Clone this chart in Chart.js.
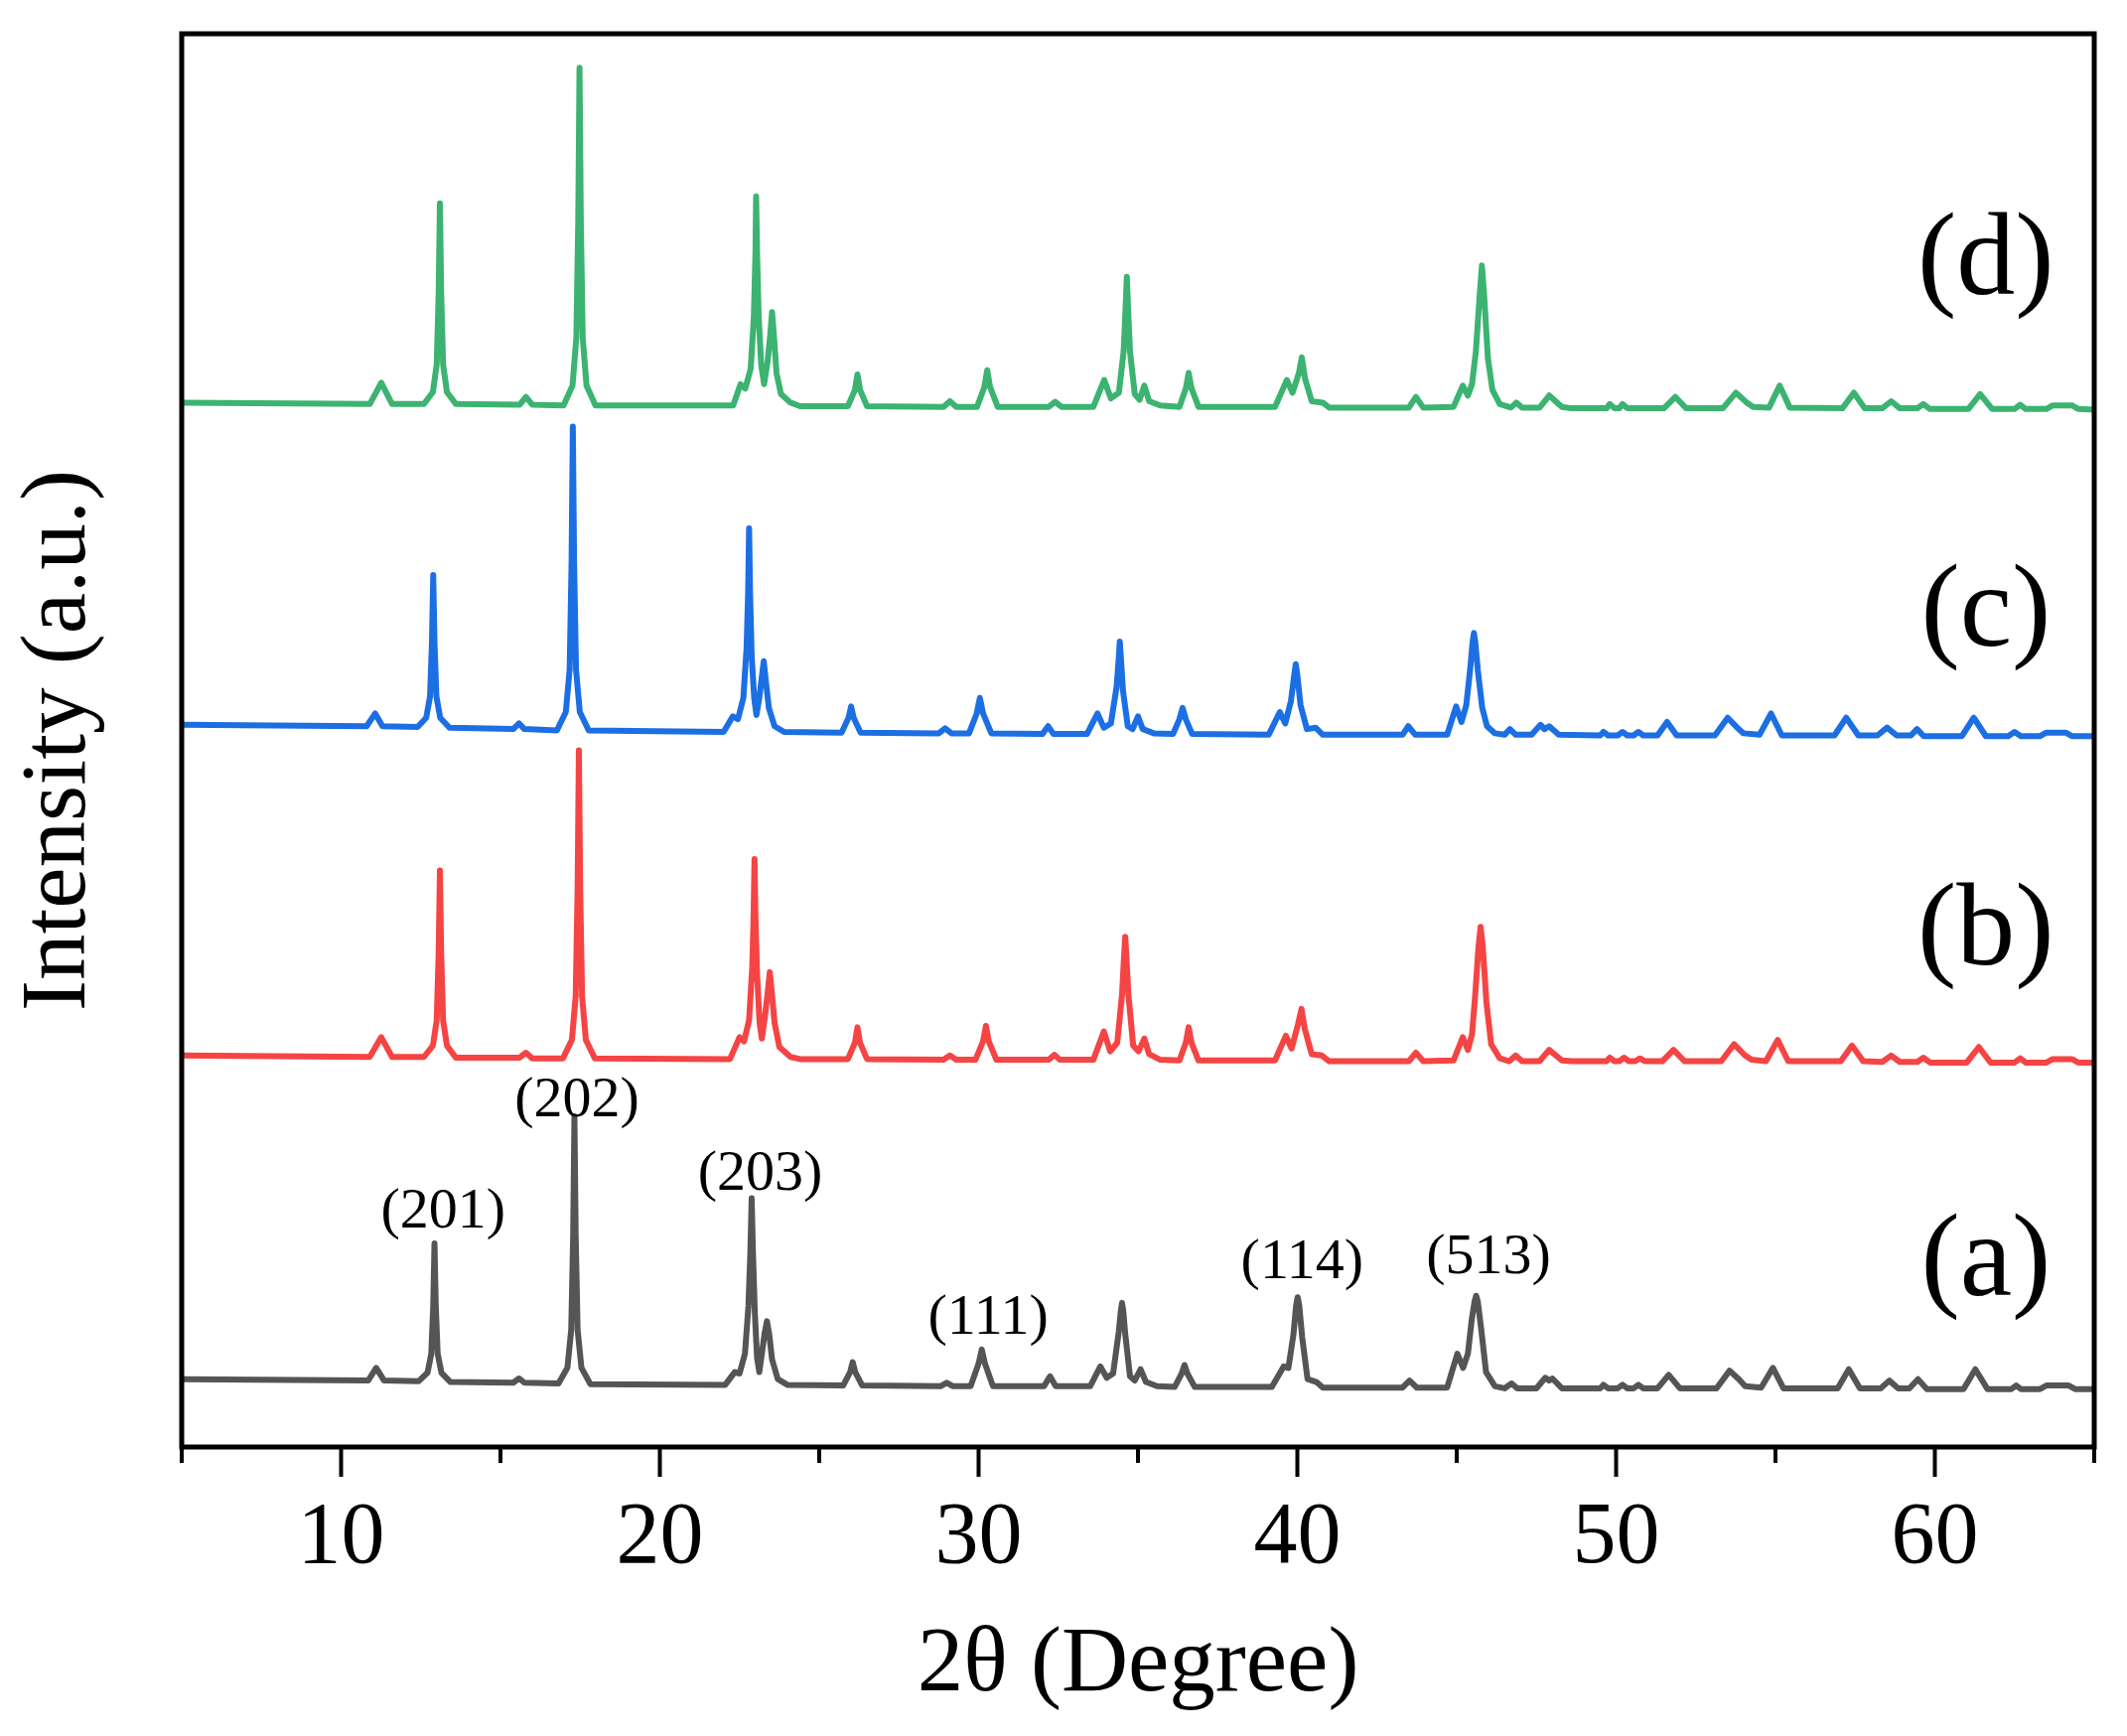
<!DOCTYPE html>
<html>
<head>
<meta charset="utf-8">
<script src="https://cdn.jsdelivr.net/npm/chart.js@4.4.1/dist/chart.umd.min.js"></script>
<style>
  html, body { margin: 0; padding: 0; background: #fff; }
  canvas { display: block; }
</style>
</head>
<body>
<canvas id="xrd" width="2142" height="1748"></canvas>
<script>
/***********************
 * DATA
 ***********************/
const xTicks = [10, 20, 30, 40, 50, 60];
const xMinorTicks = [5, 15, 25, 35, 45, 55, 65];

const sampleNames = ["(a)", "(b)", "(c)", "(d)"];
const sampleColors = ["#555555", "#f54444", "#1c6fe3", "#3cb371"];
// where the sample name sits (2θ, intensity)
const sampleNameAt = [[61.6, 12.9], [61.6, 36.3], [61.6, 58.9], [61.6, 83.8]];

// stacked patterns: [2θ, intensity (a.u.)]
const patternA = [
  [5,4.8],[10.85,4.7],[11.1,5.6],[11.35,4.7],
  [12.43,4.65],[12.71,5.25],[12.83,6.6],[12.89,10.0],[12.93,14.4],[12.97,10.0],[13.03,6.6],[13.15,5.25],[13.43,4.6],
  [15.4,4.55],[15.58,4.85],[15.75,4.55],
  [16.82,4.5],[17.1,5.6],[17.22,8.3],[17.28,14.9],[17.32,23.4],[17.36,14.9],[17.42,8.3],[17.54,5.6],[17.82,4.45],
  [22.05,4.4],[22.35,5.3],[22.5,5.2],[22.67,6.6],[22.78,10.0],[22.84,13.8],[22.88,17.6],[22.92,13.8],[22.98,9.5],[23.05,6.3],[23.12,5.3],
  [23.2,6.6],[23.29,8.1],[23.36,8.9],[23.43,8.0],[23.52,6.2],[23.7,4.8],[24.0,4.4],
  [25.75,4.35],[25.97,5.3],[26.05,6.0],[26.13,5.3],[26.35,4.35],
  [28.8,4.3],[29.0,4.55],[29.2,4.3],
  [29.75,4.3],[30.0,5.9],[30.1,6.9],[30.2,5.9],[30.45,4.3],
  [32.05,4.3],[32.24,5.0],[32.42,4.3],
  [33.5,4.3],[33.82,5.7],[34.02,4.9],[34.22,5.2],[34.4,8.2],[34.46,9.6],[34.5,10.2],[34.54,9.6],[34.6,8.0],[34.75,5.0],[34.9,4.7],[35.08,5.5],[35.25,4.6],[35.6,4.3],
  [36.15,4.25],[36.37,5.2],[36.46,5.8],[36.55,5.2],[36.78,4.25],
  [39.2,4.25],[39.57,5.7],[39.72,5.6],[39.88,8.0],[39.96,10.0],[40.01,10.6],[40.06,10.0],[40.15,7.8],[40.32,4.8],[40.6,4.6],[40.8,4.2],
  [43.3,4.2],[43.52,4.7],[43.75,4.2],
  [44.7,4.2],[45.02,6.6],[45.2,5.6],[45.35,6.6],[45.47,9.0],[45.56,10.3],[45.61,10.7],[45.66,10.3],[45.76,8.5],[45.92,5.3],[46.2,4.3],[46.5,4.15],[46.72,4.5],[46.9,4.15],
  [47.5,4.15],[47.78,4.9],[47.9,4.7],[48.0,4.85],[48.3,4.15],
  [49.5,4.15],[49.6,4.4],[49.75,4.15],[50.05,4.15],[50.2,4.4],[50.35,4.15],[50.55,4.15],[50.7,4.4],[50.85,4.15],
  [51.3,4.15],[51.65,5.1],[52.0,4.15],
  [53.15,4.15],[53.56,5.4],[53.85,4.8],[54.05,4.3],[54.55,4.2],[54.92,5.6],[55.25,4.15],
  [56.95,4.15],[57.3,5.5],[57.65,4.15],
  [58.3,4.15],[58.57,4.7],[58.85,4.15],[59.2,4.15],[59.47,4.8],[59.75,4.1],
  [60.9,4.1],[61.27,5.5],[61.65,4.1],
  [62.4,4.1],[62.55,4.35],[62.7,4.1],
  [63.3,4.1],[63.5,4.35],[64.2,4.35],[64.4,4.1],[65,4.1]
];

const patternB = [
  [5,27.7],[10.9,27.6],[11.26,29.0],[11.6,27.6],
  [12.6,27.6],[12.88,28.4],[13.0,30.2],[13.06,34.9],[13.1,40.8],[13.14,34.9],[13.2,30.2],[13.32,28.4],[13.6,27.55],
  [15.6,27.55],[15.8,27.9],[16.0,27.5],
  [16.96,27.5],[17.24,28.8],[17.36,31.9],[17.42,39.5],[17.46,49.3],[17.5,39.5],[17.56,31.9],[17.68,28.8],[17.96,27.5],
  [22.2,27.45],[22.5,29.0],[22.64,28.7],[22.8,30.2],[22.9,34.0],[22.94,37.5],[22.97,41.6],[23.0,37.5],[23.05,33.5],[23.13,30.0],[23.2,28.9],
  [23.3,30.5],[23.39,32.3],[23.45,33.6],[23.51,32.2],[23.6,30.0],[23.75,28.3],[24.1,27.6],[24.4,27.45],
  [25.9,27.45],[26.12,28.6],[26.2,29.7],[26.28,28.6],[26.5,27.45],
  [28.9,27.4],[29.1,27.7],[29.3,27.4],
  [29.9,27.4],[30.14,28.7],[30.23,29.8],[30.32,28.7],[30.56,27.4],
  [32.2,27.4],[32.38,27.75],[32.55,27.4],
  [33.6,27.4],[33.93,29.4],[34.13,28.0],[34.35,28.6],[34.5,32.0],[34.56,34.6],[34.6,36.1],[34.64,34.6],[34.7,32.0],[34.85,28.4],[35.02,28.0],[35.2,28.9],[35.35,27.8],[35.7,27.4],
  [36.3,27.35],[36.5,28.6],[36.59,29.7],[36.68,28.6],[36.9,27.35],
  [39.3,27.35],[39.64,29.1],[39.82,28.2],[40.02,29.9],[40.13,31.0],[40.23,29.6],[40.45,27.8],[40.77,27.7],[41.0,27.3],
  [43.5,27.3],[43.72,27.9],[43.95,27.3],
  [44.9,27.35],[45.19,29.0],[45.35,28.1],[45.48,29.2],[45.58,32.0],[45.68,35.3],[45.75,36.8],[45.82,35.3],[45.93,31.5],[46.08,28.5],[46.35,27.5],[46.65,27.3],[46.85,27.7],[47.05,27.3],
  [47.6,27.3],[47.9,28.1],[48.3,27.35],[48.6,27.3],
  [49.7,27.3],[49.8,27.55],[49.95,27.3],[50.1,27.3],[50.25,27.55],[50.4,27.3],[50.6,27.3],[50.75,27.5],[50.9,27.3],
  [51.45,27.3],[51.8,28.1],[52.15,27.3],
  [53.3,27.3],[53.7,28.5],[54.05,27.7],[54.25,27.4],[54.7,27.3],[55.07,28.8],[55.4,27.3],
  [57.05,27.3],[57.4,28.4],[57.75,27.3],
  [58.35,27.25],[58.63,27.7],[58.9,27.25],[59.45,27.25],[59.64,27.55],[59.85,27.2],
  [61.0,27.2],[61.38,28.3],[61.75,27.2],
  [62.5,27.2],[62.68,27.5],[62.85,27.2],
  [63.5,27.2],[63.7,27.45],[64.3,27.45],[64.5,27.2],[65,27.2]
];

const patternC = [
  [5,51.1],[10.8,51.0],[11.07,51.9],[11.3,51.0],
  [12.4,50.95],[12.67,51.6],[12.79,53.1],[12.85,56.9],[12.89,61.7],[12.93,56.9],[12.99,53.1],[13.11,51.6],[13.4,50.9],
  [15.4,50.8],[15.58,51.2],[15.75,50.8],
  [16.77,50.7],[17.05,52.0],[17.17,55.0],[17.23,62.5],[17.27,72.2],[17.31,62.5],[17.37,55.0],[17.49,52.0],[17.77,50.7],
  [22.0,50.6],[22.29,51.7],[22.45,51.5],[22.62,53.0],[22.72,56.5],[22.77,60.5],[22.8,65.0],[22.83,60.5],[22.88,56.0],[22.96,53.0],[23.03,51.8],
  [23.12,53.0],[23.2,54.5],[23.26,55.6],[23.32,54.3],[23.42,52.3],[23.6,51.0],[23.9,50.6],
  [25.7,50.55],[25.92,51.6],[26.0,52.4],[26.08,51.6],[26.3,50.55],
  [28.75,50.5],[28.95,50.85],[29.15,50.5],
  [29.7,50.5],[29.94,51.9],[30.04,53.0],[30.14,51.9],[30.4,50.5],
  [32.0,50.45],[32.18,51.0],[32.35,50.45],
  [33.4,50.45],[33.73,51.9],[33.93,50.9],[34.15,51.2],[34.33,53.8],[34.39,55.6],[34.43,57.0],[34.47,55.6],[34.53,53.5],[34.68,51.0],[34.83,50.8],[35.0,51.7],[35.15,50.8],[35.5,50.5],
  [36.1,50.45],[36.3,51.5],[36.4,52.3],[36.5,51.5],[36.7,50.45],
  [39.1,50.4],[39.45,52.0],[39.62,51.2],[39.8,52.8],[39.9,54.6],[39.95,55.4],[40.0,54.6],[40.1,52.5],[40.3,50.8],[40.57,50.9],[40.8,50.4],
  [43.3,50.4],[43.48,51.0],[43.7,50.4],
  [44.7,50.4],[44.98,52.4],[45.15,51.3],[45.3,52.5],[45.42,55.0],[45.5,57.0],[45.54,57.6],[45.58,57.0],[45.66,55.0],[45.8,52.3],[45.95,51.0],[46.2,50.5],[46.5,50.4],[46.67,50.8],[46.85,50.4],
  [47.35,50.4],[47.63,51.1],[47.75,50.8],[47.9,51.0],[48.2,50.4],
  [49.5,50.35],[49.6,50.6],[49.75,50.35],[50.05,50.35],[50.2,50.6],[50.35,50.35],[50.55,50.35],[50.7,50.6],[50.85,50.35],
  [51.3,50.35],[51.6,51.3],[51.9,50.35],
  [53.1,50.35],[53.5,51.6],[53.8,50.9],[54.0,50.5],[54.5,50.4],[54.86,51.9],[55.2,50.35],
  [56.85,50.35],[57.22,51.6],[57.6,50.35],
  [58.2,50.35],[58.5,50.9],[58.8,50.35],[59.25,50.35],[59.44,50.8],[59.65,50.3],
  [60.85,50.3],[61.22,51.6],[61.6,50.3],
  [62.3,50.3],[62.5,50.6],[62.7,50.3],
  [63.3,50.3],[63.5,50.55],[64.1,50.55],[64.3,50.3],[65,50.3]
];

const patternD = [
  [5,73.9],[10.9,73.8],[11.26,75.3],[11.6,73.8],
  [12.6,73.8],[12.88,74.65],[13.0,76.6],[13.06,81.6],[13.1,88.0],[13.14,81.6],[13.2,76.6],[13.32,74.65],[13.6,73.8],
  [15.6,73.75],[15.8,74.3],[16.0,73.75],
  [16.98,73.7],[17.26,75.1],[17.38,78.5],[17.44,86.8],[17.48,97.6],[17.52,86.8],[17.58,78.5],[17.7,75.1],[17.98,73.7],
  [22.3,73.7],[22.53,75.2],[22.68,74.9],[22.85,76.3],[22.95,80.0],[23.0,84.5],[23.02,88.5],[23.05,84.5],[23.1,80.0],[23.18,76.6],[23.27,75.2],
  [23.38,76.8],[23.46,78.6],[23.52,80.3],[23.58,78.6],[23.66,76.0],[23.8,74.5],[24.1,73.9],[24.4,73.65],
  [25.9,73.65],[26.12,74.8],[26.2,75.9],[26.28,74.8],[26.5,73.65],
  [28.9,73.6],[29.1,74.0],[29.3,73.6],
  [29.95,73.6],[30.18,75.0],[30.27,76.2],[30.36,75.0],[30.6,73.6],
  [32.2,73.6],[32.4,73.95],[32.6,73.6],
  [33.6,73.6],[33.94,75.5],[34.15,74.2],[34.4,74.6],[34.55,77.5],[34.61,80.5],[34.65,82.8],[34.69,80.5],[34.75,77.5],[34.9,74.5],[35.05,74.1],[35.2,75.1],[35.35,74.0],[35.7,73.7],
  [36.3,73.6],[36.5,74.9],[36.59,76.0],[36.68,74.9],[36.9,73.6],
  [39.3,73.6],[39.67,75.5],[39.85,74.6],[40.05,76.0],[40.14,77.1],[40.24,75.6],[40.45,74.0],[40.8,73.9],[41.0,73.55],
  [43.5,73.55],[43.72,74.3],[43.95,73.55],
  [44.9,73.6],[45.19,75.1],[45.35,74.4],[45.48,75.2],[45.6,77.5],[45.72,81.5],[45.79,83.6],[45.86,81.5],[45.98,77.0],[46.12,74.8],[46.35,73.8],[46.7,73.55],[46.87,73.9],[47.05,73.55],
  [47.6,73.55],[47.9,74.4],[48.3,73.6],[48.6,73.5],
  [49.7,73.5],[49.8,73.8],[49.95,73.5],[50.1,73.5],[50.2,73.8],[50.35,73.5],
  [51.5,73.5],[51.86,74.3],[52.2,73.5],
  [53.35,73.5],[53.76,74.6],[54.1,73.9],[54.3,73.6],[54.8,73.55],[55.13,75.1],[55.45,73.55],
  [57.1,73.5],[57.46,74.6],[57.8,73.5],
  [58.35,73.5],[58.63,74.0],[58.9,73.5],[59.45,73.5],[59.64,73.8],[59.85,73.45],
  [61.05,73.45],[61.42,74.5],[61.8,73.45],
  [62.5,73.45],[62.68,73.75],[62.85,73.45],
  [63.5,73.45],[63.7,73.7],[64.3,73.7],[64.5,73.45],[65,73.4]
];

// Miller indices of pattern (a) and where their labels sit (2θ, intensity)
const millerNames = ["(201)", "(202)", "(203)", "(111)", "(114)", "(513)"];
const millerAt = [[13.2, 16.6], [17.4, 24.5], [23.15, 19.3], [30.3, 9.1], [40.15, 13.0], [46.0, 13.4]];

const SERIF = "'Liberation Serif', 'Times New Roman', serif";

/***********************
 * FRAME, MINOR TICKS, TEXT
 ***********************/
const decorPlugin = {
  id: "decor",
  afterDraw(chart) {
    const ctx = chart.ctx;
    const a = chart.chartArea;
    const xs = chart.scales.x;
    const ys = chart.scales.y;

    ctx.save();
    ctx.strokeStyle = "#000";
    ctx.lineWidth = 5;
    ctx.strokeRect(a.left, a.top, a.right - a.left, a.bottom - a.top);

    // minor ticks
    ctx.lineWidth = 4;
    xMinorTicks.forEach(v => {
      const px = xs.getPixelForValue(v);
      ctx.beginPath();
      ctx.moveTo(px, a.bottom);
      ctx.lineTo(px, a.bottom + 16);
      ctx.stroke();
    });

    ctx.fillStyle = "#000";

    // sample names
    ctx.font = "118px " + SERIF;
    ctx.textAlign = "center";
    ctx.textBaseline = "middle";
    sampleNames.forEach((name, i) => {
      ctx.fillText(name, xs.getPixelForValue(sampleNameAt[i][0]), ys.getPixelForValue(sampleNameAt[i][1]));
    });

    // Miller indices
    ctx.font = "58px " + SERIF;
    millerNames.forEach((name, i) => {
      ctx.fillText(name, xs.getPixelForValue(millerAt[i][0]), ys.getPixelForValue(millerAt[i][1]));
    });

    // axis titles
    ctx.font = "93px " + SERIF;
    ctx.textBaseline = "alphabetic";
    ctx.fillText("2\u03B8 (Degree)", (a.left + a.right) / 2, 1702);

    ctx.translate(85, (a.top + a.bottom) / 2);
    ctx.rotate(-Math.PI / 2);
    ctx.fillText("Intensity (a.u.)", 0, 0);
    ctx.restore();
  }
};

/***********************
 * CHART
 ***********************/
const patterns = [patternA, patternB, patternC, patternD];

new Chart(document.getElementById("xrd"), {
  type: "line",
  data: {
    datasets: patterns.map((p, i) => ({
      label: sampleNames[i],
      data: p.map(pt => ({ x: pt[0], y: pt[1] })),
      borderColor: sampleColors[i],
      borderWidth: 6,
      borderJoinStyle: "round",
      borderCapStyle: "round",
      pointRadius: 0,
      tension: 0,
      fill: false
    }))
  },
  options: {
    responsive: false,
    animation: false,
    devicePixelRatio: 1,
    layout: { padding: { left: 183, right: 33, top: 34, bottom: 0 } },
    plugins: {
      legend: { display: false },
      tooltip: { enabled: false }
    },
    scales: {
      x: {
        type: "linear",
        min: 5,
        max: 65,
        afterBuildTicks: scale => {
          scale.ticks = xTicks.map(v => ({ value: v }));
        },
        afterFit: scale => { scale.height = 291; },
        grid: {
          drawOnChartArea: false,
          drawTicks: true,
          tickLength: 30,
          tickWidth: 4,
          tickColor: "#000"
        },
        border: { display: false },
        ticks: {
          color: "#000",
          font: { family: SERIF, size: 88 },
          padding: 10,
          maxRotation: 0
        }
      },
      y: {
        type: "linear",
        min: 0,
        max: 100,
        display: false
      }
    }
  },
  plugins: [decorPlugin]
});
</script>
</body>
</html>
